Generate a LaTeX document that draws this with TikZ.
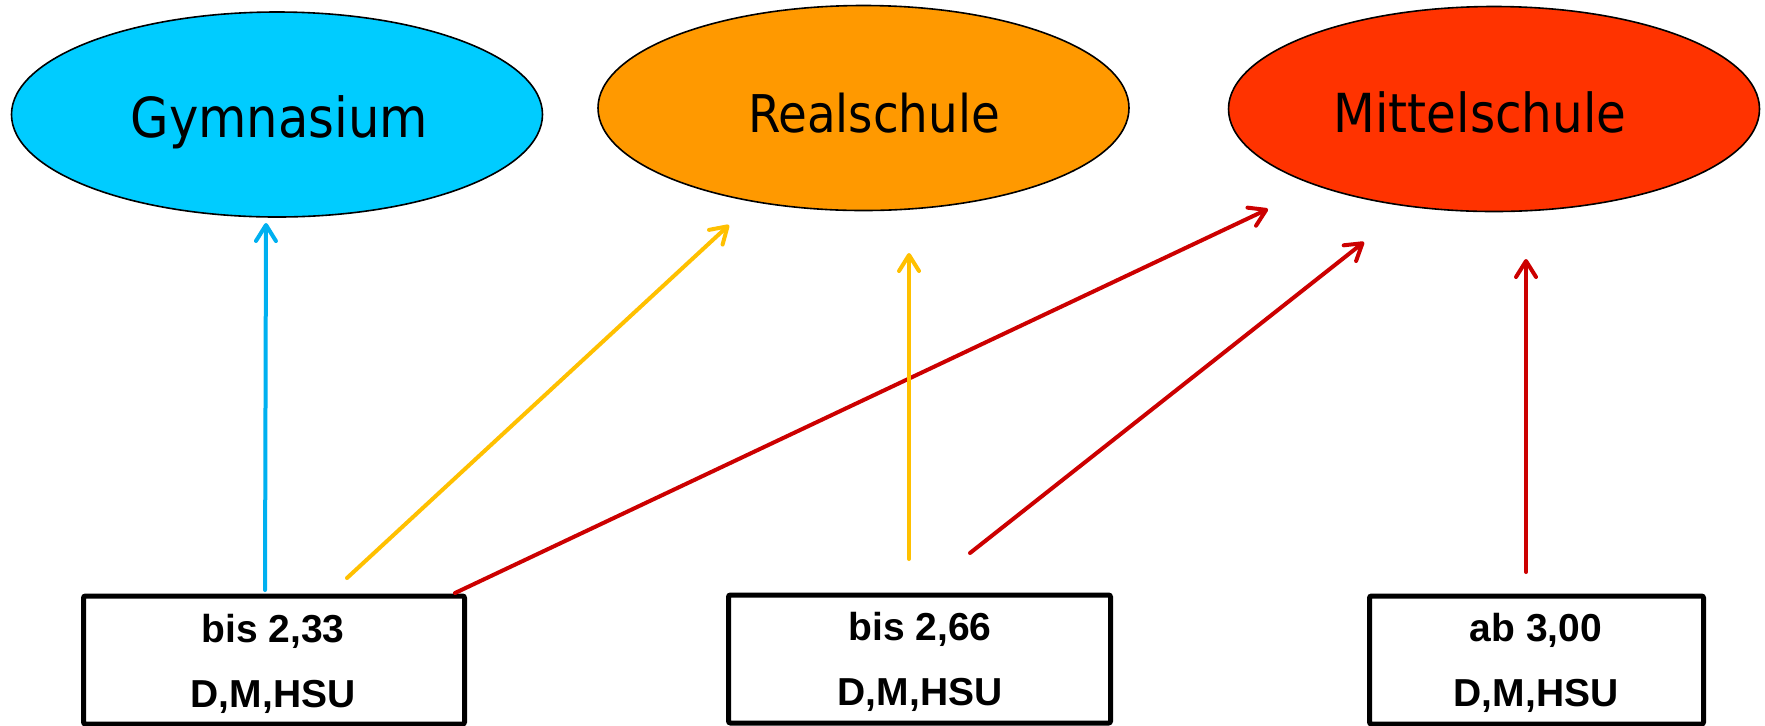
\documentclass[tikz,border=0pt]{standalone}
\usepackage{fontspec}
\setmainfont{Liberation Sans}
\newfontfamily\ellfont{DejaVu Sans Condensed}
\usetikzlibrary{shapes.geometric,arrows.meta}
\definecolor{gymfill}{HTML}{00CCFF}
\definecolor{realfill}{HTML}{FF9900}
\definecolor{mittfill}{HTML}{FF3300}
\definecolor{blueline}{HTML}{00B0F0}
\definecolor{yellowline}{HTML}{FFC000}
\definecolor{redline}{HTML}{CC0000}
\begin{document}
\begin{tikzpicture}[x=0.5pt,y=-0.5pt,
  school/.style={ellipse, draw=black, line width=0.8pt, minimum width=265.5pt, minimum height=102.5pt, inner sep=0pt},
  schooltext/.style={inner sep=0pt, anchor=base},
  gradebox/.style={rectangle, draw=black, line width=2.5pt, rounded corners=1pt, fill=white, inner sep=0pt, minimum height=64pt},
  lab/.style={font=\bfseries\fontsize{19.5}{22}\selectfont, inner sep=0pt, anchor=base},
  conn/.style={line width=2pt, line cap=round, -{Straight Barb[length=8pt,width=10pt,line cap=round,line join=round]}}
]
\useasboundingbox (0,0) rectangle (1765,725);
\fill[white] (0,0) rectangle (1765,725);
% schools
\node[school, fill=gymfill] (gym) at (277,114.5) {};
\node[school, fill=realfill] (real) at (863.5,108) {};
\node[school, fill=mittfill] (mitt) at (1494,109) {};
\node[schooltext, font=\ellfont\fontsize{27.6}{30}\selectfont] (gymt) at (279.5,137) {Gymnasium};
\node[schooltext, font=\ellfont\fontsize{26}{30}\selectfont] (realt) at (874,132) {Realschule};
\node[schooltext, font=\ellfont\fontsize{26.9}{30}\selectfont] (mittt) at (1480,132) {Mittelschule};
% grade boxes
\node[gradebox, minimum width=190.5pt] (b1) at (274,660) {};
\node[gradebox, minimum width=191pt] (b2) at (919.5,659) {};
\node[gradebox, minimum width=167pt] (b3) at (1536.5,660) {};
\node[lab] (b1a) at (273,642) {bis 2,33};
\node[lab] (b1b) at (273,707) {D,M,HSU};
\node[lab] (b2a) at (920,640) {bis 2,66};
\node[lab] (b2b) at (920,705) {D,M,HSU};
\node[lab] (b3a) at (1536,641) {ab 3,00};
\node[lab] (b3b) at (1536,706) {D,M,HSU};
% arrow end points
\coordinate (s1) at (265,590);
\coordinate (t1) at (266,223);
\coordinate (s2) at (347,578);
\coordinate (t2) at (729,225);
\coordinate (s3) at (455,593);
\coordinate (t3) at (1268,209);
\coordinate (s4) at (909,559);
\coordinate (t4) at (909,253);
\coordinate (s5) at (970,553);
\coordinate (t5) at (1364,242);
\coordinate (s6) at (1526,572);
\coordinate (t6) at (1526,259);
% connectors
\draw[conn, blueline] (s1) -- (t1);
\draw[conn, yellowline] (s2) -- (t2);
\draw[conn, redline] (s3) -- (t3);
\draw[conn, yellowline] (s4) -- (t4);
\draw[conn, redline] (s5) -- (t5);
\draw[conn, redline] (s6) -- (t6);
\end{tikzpicture}
\end{document}
